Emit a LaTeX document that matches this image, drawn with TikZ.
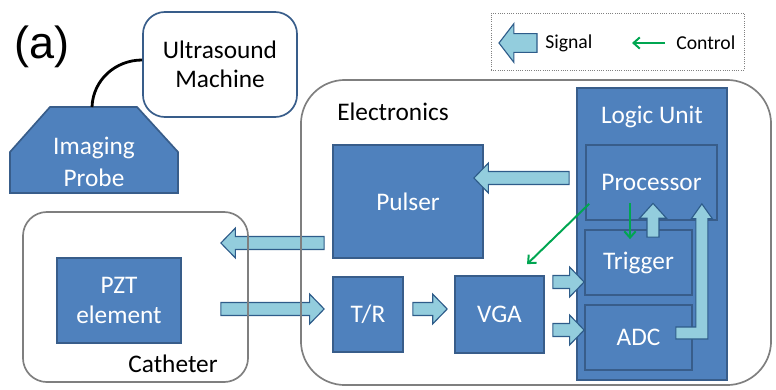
\documentclass[tikz,border=0pt]{standalone}
\usepackage{fontspec}
\setmainfont{Carlito}
\newfontfamily\labelfont{Liberation Sans}
\usetikzlibrary{positioning,calc,arrows.meta}
\definecolor{boxblue}{HTML}{4F81BD}
\definecolor{boxedge}{HTML}{385D8A}
\definecolor{sigfill}{HTML}{93CDDD}
\definecolor{sigedge}{HTML}{2E5C8A}
\definecolor{ctrlgreen}{HTML}{00A651}
\definecolor{framegray}{HTML}{7F7F7F}
\tikzstyle{block}=[rectangle, draw=boxedge, fill=boxblue, line width=1.2pt, text=white, align=center, inner sep=0pt, font=\fontsize{18}{21}\selectfont]
\tikzstyle{frame}=[rectangle, draw=framegray, line width=1.2pt, inner sep=0pt]
\tikzstyle{caption}=[inner sep=0pt, font=\fontsize{18}{21}\selectfont]
\tikzstyle{ctrl}=[-{Straight Barb[length=4.5pt,width=8pt]}, draw=ctrlgreen, line width=1.4pt]
\tikzstyle{cable}=[draw=black, line width=2pt]
\tikzset{
  sigshaft/.store in=\sigshaft, sighead/.store in=\sighead, siglen/.store in=\siglen,
  sigshaft=4.6pt, sighead=10.6pt, siglen=10.3pt,
  sig/.style={draw=sigedge, fill=sigfill, line width=0.8pt, line join=miter,
    to path={let \p1=(\tikztostart), \p2=(\tikztotarget),
      \n1={atan2(\y2-\y1,\x2-\x1)}, \n2={veclen(\x2-\x1,\y2-\y1)} in
      ($(\p1)+(\n1+90:\sigshaft)$) -- ($(\p1)+(\n1:\n2-\siglen)+(\n1+90:\sigshaft)$)
      -- ($(\p1)+(\n1:\n2-\siglen)+(\n1+90:\sighead)$) -- (\p2)
      -- ($(\p1)+(\n1:\n2-\siglen)+(\n1-90:\sighead)$)
      -- ($(\p1)+(\n1:\n2-\siglen)+(\n1-90:\sigshaft)$)
      -- ($(\p1)+(\n1-90:\sigshaft)$) -- cycle}},
  sigelbow/.style={draw=sigedge, fill=sigfill, line width=0.8pt, line join=miter,
    to path={let \p1=(\tikztostart), \p2=(\tikztotarget) in
      (\x1,\y1+\sigshaft) -- (\x2-\sigshaft,\y1+\sigshaft) -- (\x2-\sigshaft,\y2-\siglen)
      -- (\x2-\sighead,\y2-\siglen) -- (\p2) -- (\x2+\sighead,\y2-\siglen)
      -- (\x2+\sigshaft,\y2-\siglen) -- (\x2+\sigshaft,\y1-\sigshaft) -- (\x1,\y1-\sigshaft) -- cycle}}
}

\begin{document}
\begin{tikzpicture}[x=0.025cm, y=-0.025cm]
        \useasboundingbox (0,0) rectangle (776,389);

        % Ultrasound machine and probe
        \node (label) [inner sep=0pt, font=\labelfont\fontsize{32}{36}\selectfont] at (42,47) {(a)};
        \node (machine) [block, fill=white, text=black, rounded corners=0.55cm, minimum width=3.85cm, minimum height=2.625cm] at (220,64.5) {Ultrasound\\Machine};
        \draw[fill=boxblue, draw=boxedge, line width=1.2pt] (50,107) -- (137,107) -- (178,152) -- (178,193) -- (10,193) -- (10,152) -- cycle;
        \coordinate (probetop) at (92,107);
        \node (probe) [caption, text=white, align=center, font=\fontsize{18}{23}\selectfont] at (94,162) {Imaging\\Probe};
        \draw[cable] (probetop) to[out=88, in=180] ($(machine.west)+(0,-4.5)$);

        % Legend
        \node (legend) [frame, draw=gray, line width=0.6pt, densely dotted, minimum width=6.325cm, minimum height=1.425cm] at (617.5,41.5) {};
        \node (signaltext) [caption, anchor=west, font=\fontsize{14}{16}\selectfont] at (545,43) {Signal};
        \node (controltext) [caption, anchor=west, font=\fontsize{14}{16}\selectfont] at (676,43) {Control};
        \draw[sig, sigshaft=6.7pt, sighead=13.8pt, siglen=10.6pt] ($(signaltext.west)+(-8,0)$) to ($(signaltext.west)+(-46,0)$);
        \draw[ctrl] ($(controltext.west)+(-11,0)$) -- ($(controltext.west)+(-44,0)$);

        % Electronics
        \node (pulser) [block, minimum width=3.75cm, minimum height=2.825cm] at (408,201.5) {Pulser};
        \node (tr) [block, minimum width=1.75cm, minimum height=1.875cm] at (368,314.5) {T/R};
        \node (vga) [block, right of=tr, node distance=3.2875cm, minimum width=2.225cm, minimum height=1.925cm] {VGA};

        % Logic unit
        \node (logic) [block, minimum width=3.75cm, minimum height=7.3cm] at (652,234) {};
        \node (logiclabel) [caption, text=white] at (652,117) {Logic Unit};
        \node (processor) [block, minimum width=3.275cm, minimum height=1.875cm] at (651.5,182.5) {Processor};
        \node (trigger) [block, minimum width=2.675cm, minimum height=1.625cm] at (638.5,262.5) {Trigger};
        \node (adc) [block, below of=trigger, node distance=1.875cm, minimum width=2.675cm, minimum height=1.625cm] {ADC};

        % Catheter
        \node (pzt) [block, minimum width=3.1cm, minimum height=2.125cm] at (119,300.5) {PZT\\element};

        % Signal paths
        \draw[sig] ($(processor.west)+(-16,-4.5)$) to ($(pulser.east)+(-10,-23.5)$);
        \draw[sig] ($(pulser.west)+(-8,41.5)$) to ($(pzt.east)+(39,-57.5)$);
        \draw[sig] ($(pzt.east)+(39,8.5)$) to ($(tr.west)+(-8,-5.5)$);
        \draw[sig] ($(tr.east)+(9,-5.5)$) to ($(vga.west)+(-7,-5.5)$);
        \draw[sig] ($(vga.east)+(8,-32.5)$) to ($(trigger.west)+(0,19.5)$);
        \draw[sig] ($(vga.east)+(8,15.5)$) to ($(adc.west)+(0,-7.5)$);
        \draw[sig, sigshaft=4.25pt, sighead=9.6pt, siglen=10.6pt] ($(trigger.north)+(14.5,8)$) to ($(processor.south)+(1.5,-17.5)$);
        \draw[sigelbow, sigshaft=4.25pt, sighead=7.5pt, siglen=10.6pt] ($(adc.east)+(-17,-4.5)$) to ($(processor.south east)+(-16,-17)$);

        % Control paths
        \draw[ctrl] ($(processor.south)+(-21.5,-18)$) -- ($(trigger.north)+(-8.5,10)$);
        \draw[ctrl] ($(processor.south west)+(4,-17)$) -- ($(vga.north)+(27.5,-11)$);

        % Frames
        \node (electronics) [frame, rounded corners=1.1cm, minimum width=11.75cm, minimum height=7.625cm] at (536,232.5) {};
        \node (electronicslabel) [caption, anchor=west] at (337,112) {Electronics};
        \node (catheter) [frame, rounded corners=0.6cm, minimum width=5.625cm, minimum height=4.25cm] at (135.5,297) {};
        \node (catheterlabel) [caption] at (173,364) {Catheter};
\end{tikzpicture}
\end{document}
